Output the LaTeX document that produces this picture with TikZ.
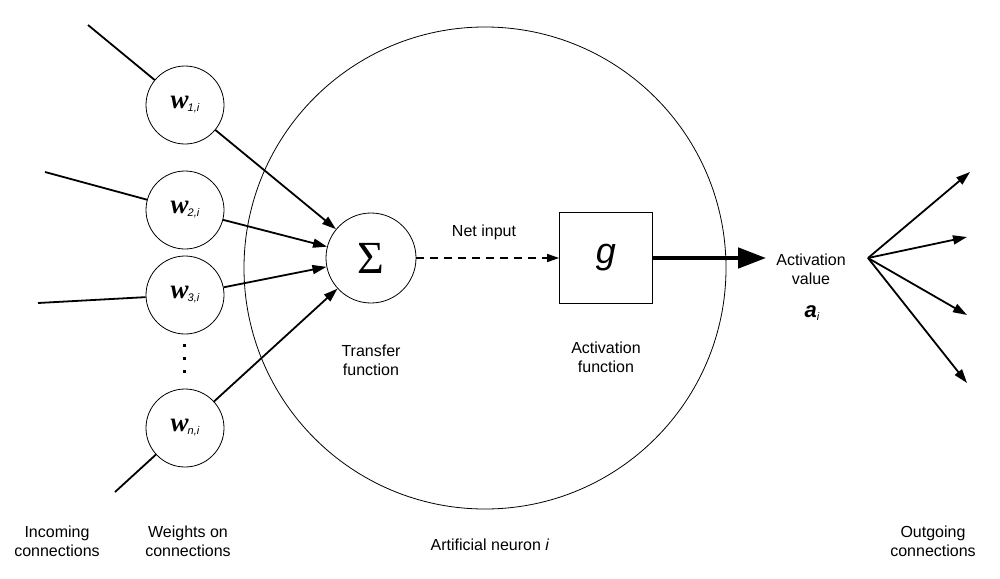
\documentclass[tikz,border=0pt]{standalone}
\usepackage{fontspec}
\setmainfont{Liberation Sans}
\newfontfamily\serifw{Liberation Serif}
\usetikzlibrary{arrows.meta}
\begin{document}
\begin{tikzpicture}[x=1pt,y=-1pt,
  every node/.style={font=\fontsize{16}{19}\selectfont},
  wcirc/.style={draw, circle, line width=0.8pt, minimum size=78pt, inner sep=0pt},
  lbl/.style={align=center, inner sep=1pt},
  conn/.style={line width=1.8pt},
  arr/.style={conn, -{Triangle[length=14pt,width=9pt]}},
  dotmark/.style={fill, rectangle, minimum size=3pt, inner sep=0pt}
]
\useasboundingbox (0,0) rectangle (1000,578);
% big neuron
\node[draw, circle, line width=0.8pt, minimum size=482pt] (neuron) at (485,268) {};
% weights
\newcommand{\wt}[1]{{\serifw\fontsize{27}{27}\selectfont\itshape\bfseries w}\kern-1pt\raisebox{-3pt}{\fontsize{11}{11}\selectfont\itshape #1}}
\node[wcirc] (w1) at (185,105) {\wt{1,i}};
\node[wcirc] (w2) at (185,210) {\wt{2,i}};
\node[wcirc] (w3) at (185,295) {\wt{3,i}};
\node[wcirc] (wn) at (185,428) {\wt{n,i}};
\node[dotmark] (d1) at (184,345) {};
\node[dotmark] (d2) at (184,358) {};
\node[dotmark] (d3) at (184,371) {};
% incoming
\coordinate (in1) at (88,25);
\coordinate (in2) at (45,172);
\coordinate (in3) at (38,303);
\coordinate (inn) at (115,492);
\draw[conn] (in1) -- (w1);
\draw[conn] (in2) -- (w2);
\draw[conn] (in3) -- (w3);
\draw[conn] (inn) -- (wn);
% sigma
\node[draw, circle, line width=0.8pt, minimum size=90pt, inner sep=0pt] (sig) at (371,258)
  {\serifw\fontsize{46}{46}\selectfont Σ};
\draw[arr] (w1) -- (sig);
\draw[arr] (w2) -- (sig);
\draw[arr] (w3) -- (sig);
\draw[arr] (wn) -- (sig);
\node[lbl] (tf) at (371,360) {Transfer\\function};
% g box
\node[draw, line width=0.8pt, minimum width=93pt, minimum height=91pt, inner sep=0pt] (g) at (606,258)
  {\raisebox{-3pt}{\fontsize{36}{36}\selectfont\itshape g}};
\draw[line width=1.5pt, dash pattern=on 8pt off 6pt, -{Triangle[length=12pt,width=8pt]}] (sig) -- (g);
\node[lbl] (ni) at (484,232) {Net input};
\node[lbl] (af) at (606,357) {Activation\\function};
% activation value
\node[lbl] (av) at (811,269) {Activation\\value};
\node[lbl] (ai) at (812,313) {\fontsize{22}{22}\selectfont\bfseries\itshape a\raisebox{-3pt}{\fontsize{11}{11}\selectfont\mdseries i}};
\draw[line width=4.5pt, shorten >=9pt, -{Triangle[length=28pt,width=20pt]}] (g.east) -- (g.east -| av.west);
% outgoing
\coordinate (hub) at (868,258);
\coordinate (o1) at (970,172);
\coordinate (o2) at (967,237);
\coordinate (o3) at (967,315);
\coordinate (o4) at (967,383);
\draw[arr] (hub) -- (o1);
\draw[arr] (hub) -- (o2);
\draw[arr] (hub) -- (o3);
\draw[arr] (hub) -- (o4);
% bottom labels
\node[lbl] (inc) at (57,541) {Incoming\\connections};
\node[lbl] (wts) at (188,541) {Weights on\\connections};
\node[lbl] (an) at (490,545) {Artificial neuron \textit{i}};
\node[lbl] (out) at (933,541) {Outgoing\\connections};
\end{tikzpicture}
\end{document}
